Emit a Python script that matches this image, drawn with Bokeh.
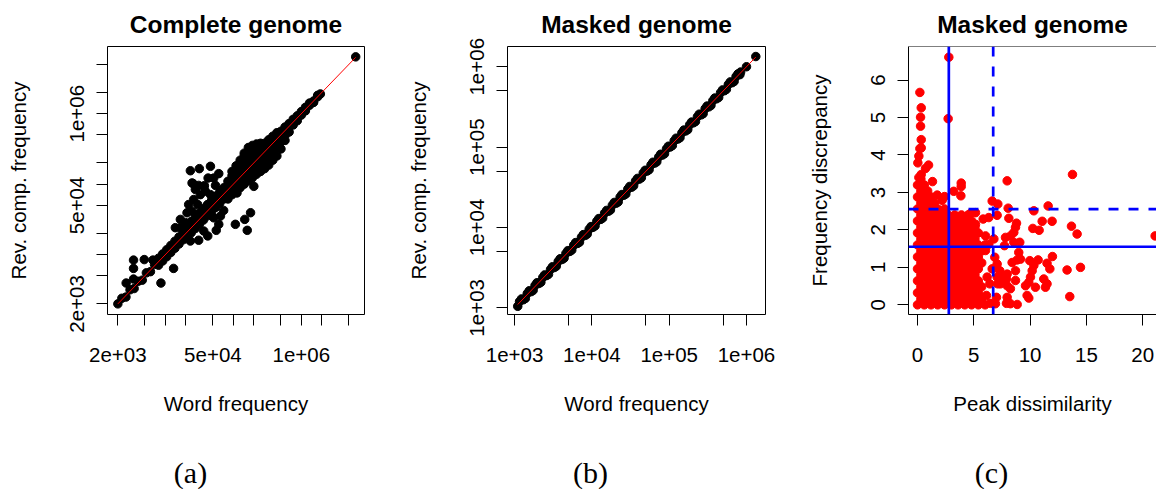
import math
from bokeh.plotting import figure
from bokeh.models import Range1d, FixedTicker, Span, Label
from bokeh.layouts import row, column
from bokeh.embed import file_html
from bokeh.resources import INLINE

FONT = "Liberation Sans"
SERIF = "Liberation Serif"

# ---------------- Panel (a): complete genome ----------------
a_band_x = [2000, 2290, 2630, 3020, 3470, 3980, 4570, 5250, 6030, 6920, 7940, 9120, 10470, 12020,
            13800, 15850, 18200, 20890, 23990, 27540, 31620, 36310, 41690, 47860, 54950, 63100,
            72440, 83180, 95500, 109600, 125900, 144500, 166000, 190500, 218800, 251200, 288400,
            331100, 380200, 436500, 501200, 575400, 660700, 758600, 871000, 1000000, 1148000,
            1318000, 1514000, 1738000, 1905000]
a_band_y = [2000, 2400, 2500, 3170, 3300, 4180, 4340, 5510, 5730, 7270, 7540, 9120, 10470, 12020,
            13800, 15850, 18200, 20890, 23990, 27540, 31620, 36310, 41690, 47860, 54950, 63100,
            72440, 83180, 95500, 109600, 125900, 144500, 166000, 190500, 218800, 251200, 288400,
            331100, 380200, 436500, 501200, 575400, 660700, 758600, 871000, 1000000, 1148000,
            1318000, 1514000, 1738000, 1905000]
a_spread_x = [7940, 9120, 10470, 12020, 13800, 15850, 18200,
              7940, 9120, 10470, 12020, 13800, 15850, 18200,
              20890, 23990, 27540, 31620, 36310, 41690, 47860, 54950, 63100, 72440,
              20890, 23990, 27540, 31620, 36310, 41690, 47860, 54950, 63100, 72440]
a_spread_y = [8910, 10230, 11750, 13490, 15490, 17780, 20420,
              7080, 8130, 9330, 10720, 12300, 14130, 16220,
              25700, 29510, 33880, 38900, 44670, 51290, 58880, 67610, 77620, 89130,
              17780, 20420, 23440, 26920, 30900, 35480, 40740, 46770, 53700, 61660]
a_blob_x = [83180] * 4 + [95500] * 5 + [109600] * 5 + [125900] * 5 + [144500] * 6 + \
           [166000] * 6 + [190500] * 6 + [218800] * 6 + [251200] * 5 + [288400] * 4 + \
           [331100] * 4 + [380200] * 4 + [436500] * 4 + [501200] * 3 + [575400] * 3 + \
           [660700] * 2 + [758600] * 2 + [871000] * 2 + [1000000] * 2 + [1148000] * 2 + \
           [1318000, 1514000, 1738000]
a_blob_y = [61660, 72440, 95500, 109600,
            70790, 83180, 112200, 131800, 151400,
            79430, 93330, 128800, 151400, 182000,
            89130, 107200, 151400, 182000, 218800,
            100000, 120200, 173800, 208900, 251200, 275400,
            112200, 138000, 199500, 239900, 288400, 331100,
            123000, 154900, 229100, 269200, 309000, 354800,
            138000, 173800, 263000, 302000, 331100, 371500,
            151400, 195000, 295100, 338800, 380200,
            166000, 218800, 338800, 380200,
            186200, 245500, 380200, 426600,
            218800, 288400, 436500, 478600,
            251200, 331100, 489800, 537000,
            316200, 398100, 562300,
            416900, 489800, 645700,
            549500, 724400,
            691800, 831800,
            794300, 933300,
            955000, 1072000,
            1096000, 1230000,
            1413000, 1445000, 1820000]
a_out_x = [23300, 31600, 46000, 61000, 42500, 24700, 30900, 36700, 54600, 32700, 46000, 38800,
           27600, 51400, 22000, 29900, 20800, 26100, 24700, 16600, 14000, 16600, 19700, 25500, 37500,
           107000, 147000, 179000, 160000, 23300, 30900, 42000, 56000, 61000, 72000, 51400, 64600,
           36700, 113000, 200000, 175000,
           13200, 8600, 3400, 4890, 3400, 6560, 2650, 3400,
           6300000]
a_out_y = [155000, 166000, 179000, 141000, 122000, 104000, 96000, 93000, 96000, 71000, 71000, 79300,
           83800, 122000, 51400, 51400, 39300, 60500, 41400, 31600, 24100, 24100, 28400, 102000, 95000,
           26900, 31600, 39300, 22100, 15600, 16000, 18400, 22100, 26900, 42400, 33300, 35200,
           21600, 75000, 93000, 122000,
           6370, 3950, 8360, 8500, 6370, 8360, 3950, 4500,
           6400000]

# ---------------- Panel (b): masked genome ----------------
b_x = [1100, 1230, 1380, 1550, 1740, 1950, 2190, 2450, 2750, 3090, 3470, 3890, 4370, 4900, 5500,
       6170, 6920, 7760, 8710, 9770, 11000, 12300, 13800, 15500, 17400, 19500, 21900, 24500, 27500,
       30900, 34700, 38900, 43700, 49000, 55000, 61700, 69200, 77600, 87100, 97700, 110000, 123000,
       138000, 155000, 174000, 195000, 219000, 245000, 275000, 309000, 347000, 389000, 437000,
       490000, 550000, 617000, 692000, 776000, 840000, 1000000, 1320000]
b_y = [1045, 1290, 1310, 1630, 1650, 2050, 2080, 2570, 2610, 3240, 3300, 4080, 4150, 5150, 5230,
       6480, 6570, 8150, 8270, 10260, 10450, 12900, 13100, 16300, 16500, 20500, 20800, 25700, 26100,
       32400, 33000, 40800, 41500, 51500, 52300, 64800, 65700, 81500, 82700, 102600, 104500, 129000,
       131000, 163000, 165000, 205000, 208000, 257000, 261000, 324000, 330000, 408000, 415000,
       515000, 523000, 648000, 657000, 815000, 860000, 1000000, 1340000]
b_x2 = [1160, 1300, 1460, 1640, 1840, 2070, 2320, 2600, 2920, 3270, 3670, 4120, 4620, 5190, 5820,
        6530, 7330, 8220, 9230, 10350, 11600, 13000, 14600, 16400, 18400, 20700, 23200, 26000,
        29200, 32700, 36700, 41200, 46200, 51900, 58200, 65300, 73300, 82200, 92300, 103500,
        116000, 130000, 146000, 164000, 184000, 207000, 232000, 260000, 292000, 327000, 367000,
        412000, 462000, 519000, 582000, 653000, 733000, 822000]
b_y2 = [1195, 1261, 1504, 1591, 1895, 2008, 2390, 2522, 3008, 3172, 3780, 3996, 4759, 5034, 5995,
        6334, 7550, 7973, 9507, 10040, 11950, 12610, 15040, 15910, 18950, 20080, 23900, 25220,
        30080, 31720, 37800, 39960, 47590, 50340, 59950, 63340, 75500, 79730, 95070, 100400,
        119500, 126100, 150400, 159100, 189500, 200800, 239000, 252200, 300800, 317200, 378000,
        399600, 475900, 503400, 599500, 633400, 755000, 797300]

# ---------------- Panel (c): peak dissimilarity vs frequency discrepancy ----------------
c_dense_rows_y = [0.00, 0.16, 0.32, 0.48, 0.64, 0.80, 0.96, 1.12, 1.28, 1.44, 1.60, 1.76, 1.92,
                  2.08, 2.24, 2.40, 2.56, 2.72, 2.88, 3.04, 3.20, 3.36]
c_dense_rows_x = [
    [0.0, 0.6, 1.2, 1.8, 2.4, 3.0, 3.6, 4.2, 4.8, 5.4, 6.0],
    [0.3, 0.9, 1.5, 2.1, 2.7, 3.3, 3.9, 4.5, 5.1, 5.7],
    [0.0, 0.6, 1.2, 1.8, 2.4, 3.0, 3.6, 4.2, 4.8, 5.4],
    [0.3, 0.9, 1.5, 2.1, 2.7, 3.3, 3.9, 4.5, 5.1, 5.7],
    [0.0, 0.6, 1.2, 1.8, 2.4, 3.0, 3.6, 4.2, 4.8, 5.4],
    [0.3, 0.9, 1.5, 2.1, 2.7, 3.3, 3.9, 4.5, 5.1],
    [0.0, 0.6, 1.2, 1.8, 2.4, 3.0, 3.6, 4.2, 4.8, 5.4],
    [0.3, 0.9, 1.5, 2.1, 2.7, 3.3, 3.9, 4.5, 5.1, 5.7],
    [0.0, 0.6, 1.2, 1.8, 2.4, 3.0, 3.6, 4.2, 4.8, 5.4],
    [0.3, 0.9, 1.5, 2.1, 2.7, 3.3, 3.9, 4.5, 5.1, 5.7],
    [0.0, 0.6, 1.2, 1.8, 2.4, 3.0, 3.6, 4.2, 4.8, 5.4, 6.0],
    [0.3, 0.9, 1.5, 2.1, 2.7, 3.3, 3.9, 4.5, 5.1],
    [0.0, 0.6, 1.2, 1.8, 2.4, 3.0, 3.6, 4.2, 4.8, 5.4],
    [0.3, 0.9, 1.5, 2.1, 2.7, 3.3, 3.9, 4.5, 5.1],
    [0.0, 0.6, 1.2, 1.8, 2.4, 3.0, 3.6, 4.2, 4.8],
    [0.3, 0.9, 1.5, 2.1, 2.7, 3.3, 3.9, 4.5],
    [0.0, 0.6, 1.2, 1.8, 2.4],
    [0.3, 0.9, 1.5],
    [0.0, 0.6, 1.2],
    [0.3, 0.9],
    [0.0, 0.6],
    [0.3],
]
c_out_x = [2.78, 2.72, 0.21, 0.33, 0.27, 0.27, 0.33, 0.33, 0.21, 0.12, 0.03, 0.98, 0.71, 0.33, 0.12,
           1.33, 3.88, 3.88, 3.85, 3.22, 1.75, 2.40, 2.19, 7.96, 13.76, 6.63, 7.13, 7.07, 8.05, 8.11,
           8.79, 8.70, 10.33, 11.6, 11.07, 11.95, 10.24, 10.8, 13.67, 14.17, 21.1, 6.33, 5.83, 5.15,
           5.15, 4.70, 6.04, 6.33, 6.04, 6.78, 7.81, 8.25, 8.55, 9.08, 7.72, 8.99, 8.55, 6.86, 7.07,
           6.63, 6.18, 6.42, 8.4, 8.85, 9.14, 9.97, 10.71, 11.5, 11.98, 11.75, 10.33, 10.18, 10.03,
           9.88, 9.59, 10.47, 11.21, 11.36, 11.5, 8.7, 7.96, 7.9, 8.7, 7.96, 8.25, 7.51, 7.37, 9.73,
           9.88, 7.96, 8.25, 8.85, 7.9, 13.28, 14.47, 13.52, 7.01, 6.92, 6.48, 7.13, 7.07, 7.31, 6.12]
c_out_y = [6.61, 4.97, 5.67, 5.26, 5.01, 4.77, 4.41, 4.19, 4.17, 3.97, 3.79, 3.73, 3.64, 3.48, 3.40,
           3.29, 3.25, 3.16, 2.91, 3.03, 2.93, 2.89, 2.79, 3.31, 3.48, 2.77, 2.69, 2.39, 2.58, 2.31,
           2.18, 2.07, 2.51, 2.64, 2.23, 2.23, 2.04, 1.99, 2.10, 1.89, 1.84, 2.33, 2.29, 2.15,
           2.46, 2.44, 1.84, 1.62, 1.45, 1.76, 1.80, 1.84, 1.67, 1.67, 1.58, 1.40, 1.93, 1.27, 1.09,
           0.96, 0.74, 0.56, 1.13, 1.20, 1.22, 1.18, 1.20, 1.11, 1.29, 0.96, 1.05, 0.91, 0.74,
           0.60, 0.51, 0.47, 0.69, 0.47, 0.56, 0.91, 0.82, 0.69, 0.65, 0.51, 0.43, 0.74, 0.56, 0.25,
           0.18, 0.20, 0.03, 0.01, 0.04, 0.93, 1.00, 0.22, 0.20, 0.03, 0.04, 0.56, 0.74, 0.91, 0.25]
c_peak_cut, c_peak_cut2 = 2.78, 6.72
c_freq_cut, c_freq_cut2 = 1.551, 2.553
c_xticks = [0, 5, 10, 15, 20]
c_yticks = [0, 1, 2, 3, 4, 5, 6]

captions = ["(a)", "(b)", "(c)"]

TICK = "20.5px"


def style(p, title):
    p.toolbar_location = None
    p.grid.visible = False
    p.background_fill_color = "white"
    p.border_fill_color = "white"
    p.outline_line_color = "black"
    p.outline_line_width = 1
    p.title.text = title
    p.title.align = "center"
    p.title.text_font = FONT
    p.title.text_font_size = "24.5px"
    p.title.text_font_style = "bold"
    p.title.text_color = "black"
    p.title.standoff = 17
    for ax in (p.xaxis[0], p.yaxis[0]):
        ax.axis_line_color = None
        ax.major_tick_line_color = "black"
        ax.minor_tick_line_color = "black"
        ax.major_tick_in = 0
        ax.major_tick_out = 11
        ax.minor_tick_in = 0
        ax.minor_tick_out = 11
        ax.major_label_text_font = FONT
        ax.major_label_text_font_size = TICK
        ax.major_label_text_color = "black"
        ax.axis_label_text_font = FONT
        ax.axis_label_text_font_size = TICK
        ax.axis_label_text_font_style = "normal"
        ax.axis_label_text_color = "black"
    p.xaxis.major_label_standoff = 22
    p.xaxis.axis_label_standoff = 27
    p.yaxis.major_label_standoff = 12
    p.yaxis.axis_label_standoff = 38
    p.yaxis.major_label_orientation = "vertical"


H = 440
BORDERS = dict(min_border_top=45, min_border_bottom=126)
# ---- (a)
pa = figure(width=390, height=H, x_axis_type="log", y_axis_type="log",
            x_range=Range1d(1408, 8.49e6), y_range=Range1d(1413, 8.98e6),
            min_border_left=107, min_border_right=26, **BORDERS,
            output_backend="svg", toolbar_location=None)
style(pa, "Complete genome")
ax_x = a_band_x + a_spread_x + a_blob_x + a_out_x
ax_y = a_band_y + a_spread_y + a_blob_y + a_out_y
pa.scatter(ax_x, ax_y, size=8.5, color="black", line_color="black")
a_lim = [min(ax_x), max(ax_x)]
pa.line(a_lim, a_lim, line_color="red", line_width=1)
pa.xaxis.ticker = FixedTicker(ticks=[2e3, 5e4, 1e6], minor_ticks=[5e3, 1e4, 2e4, 1e5, 2e5, 5e5, 2e6, 5e6])
pa.yaxis.ticker = FixedTicker(ticks=[2e3, 5e4, 1e6], minor_ticks=[5e3, 1e4, 2e4, 1e5, 2e5, 5e5, 2e6, 5e6])
ov_a = {2000: "2e+03", 50000: "5e+04", 1000000: "1e+06"}
pa.xaxis.major_label_overrides = ov_a
pa.yaxis.major_label_overrides = ov_a
pa.xaxis.axis_label = "Word frequency"
pa.yaxis.axis_label = "Rev. comp. frequency"

# ---- (b)
pb = figure(width=390, height=H, x_axis_type="log", y_axis_type="log",
            x_range=Range1d(811, 1.762e6), y_range=Range1d(826, 1.786e6),
            min_border_left=117, min_border_right=15, **BORDERS,
            output_backend="svg", toolbar_location=None)
style(pb, "Masked genome")
bx = b_x + b_x2
by = b_y + b_y2
pb.scatter(bx, by, size=8.5, color="black", line_color="black")
b_lim = [min(bx), max(bx)]
pb.line(b_lim, b_lim, line_color="red", line_width=1)
pb.xaxis.ticker = FixedTicker(ticks=[1e3, 1e4, 1e5, 1e6], minor_ticks=[5e3, 5e4, 5e5])
pb.yaxis.ticker = FixedTicker(ticks=[1e3, 1e4, 1e5, 1e6], minor_ticks=[5e3, 5e4, 5e5])
ov_b = {1000: "1e+03", 10000: "1e+04", 100000: "1e+05", 1000000: "1e+06"}
pb.xaxis.major_label_overrides = ov_b
pb.yaxis.major_label_overrides = ov_b
pb.xaxis.axis_label = "Word frequency"
pb.yaxis.axis_label = "Rev. comp. frequency"

# ---- (c)
c_xr = Range1d(-0.80, 21.22)
c_yr = Range1d(-0.258, 6.896)
pc = figure(width=376, height=H, x_range=c_xr, y_range=c_yr,
            min_border_left=128, min_border_right=0, **BORDERS,
            output_backend="svg", toolbar_location=None)
style(pc, "Masked genome")
pc.title.offset = 8.7
pc.outline_line_color = None
pc.xaxis.axis_line_color = "black"
pc.yaxis.axis_line_color = "black"
pc.add_layout(Span(location=c_yr.end, dimension="width", line_color="black", line_width=1))
cx = [x for row_x in c_dense_rows_x for x in row_x] + c_out_x
cy = [y for y, row_x in zip(c_dense_rows_y, c_dense_rows_x) for _ in row_x] + c_out_y
pc.scatter(cx, cy, size=8.5, color="red", line_color="red")
pc.xaxis.ticker = FixedTicker(ticks=c_xticks)
pc.yaxis.ticker = FixedTicker(ticks=c_yticks)
pc.xaxis.major_label_overrides = {t: str(t) for t in c_xticks}
pc.yaxis.major_label_overrides = {t: str(t) for t in c_yticks}
pc.yaxis.major_label_orientation = "vertical"
pc.xaxis.minor_tick_line_color = None
pc.yaxis.minor_tick_line_color = None
pc.xaxis.axis_label = "Peak dissimilarity"
pc.yaxis.axis_label = "Frequency discrepancy"
pc.add_layout(Span(location=c_peak_cut, dimension="height", line_color="blue", line_width=2.7))
pc.add_layout(Span(location=c_peak_cut2, dimension="height", line_color="blue", line_width=2.7,
                   line_dash="10 10"))
pc.add_layout(Span(location=c_freq_cut, dimension="width", line_color="blue", line_width=2.7))
pc.add_layout(Span(location=c_freq_cut2, dimension="width", line_color="blue", line_width=2.7,
                   line_dash="10 10"))

# ---- captions strip
caps = figure(width=1156, height=49, x_range=Range1d(0, 1156), y_range=Range1d(0, 49),
              min_border=0, x_axis_location=None, y_axis_location=None,
              output_backend="svg", toolbar_location=None)
caps.grid.visible = False
caps.outline_line_color = None
caps.background_fill_color = "white"
caps.border_fill_color = "white"
for text, cxp in zip(captions, [190, 590, 991]):
    caps.add_layout(Label(x=cxp, y=17, x_units="screen", y_units="screen", text=text,
                          text_align="center", text_baseline="alphabetic", text_font=SERIF,
                          text_font_size="30px", text_color="black"))

layout = column(row(pa, pb, pc), caps)
open("out.html", "w").write(file_html(layout, INLINE))
